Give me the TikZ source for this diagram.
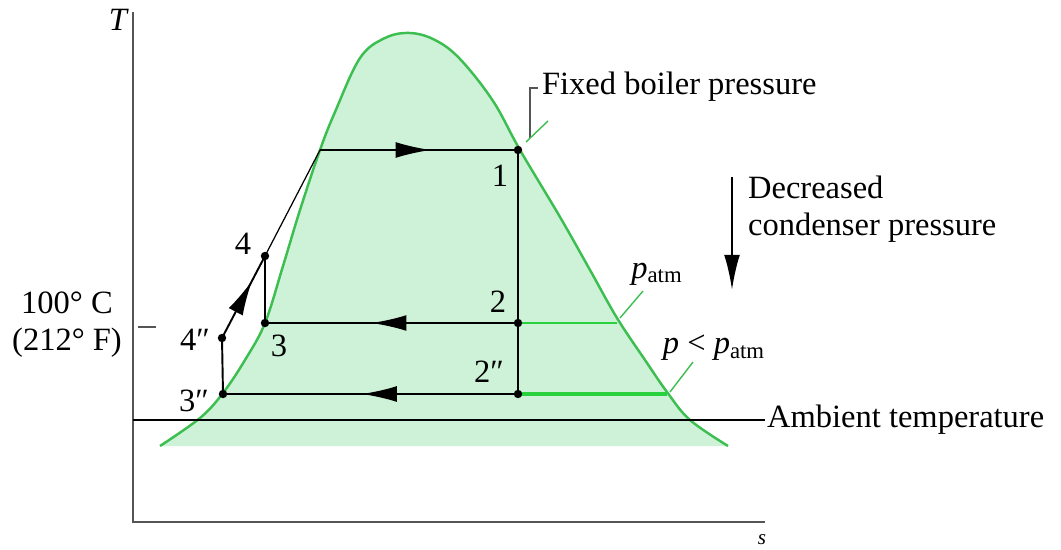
\documentclass[tikz,border=0pt]{standalone}
\usepackage{fontspec}
\setmainfont{Liberation Serif}
\usetikzlibrary{arrows.meta,decorations.markings}
\definecolor{domeline}{RGB}{60,190,80}
\definecolor{domefill}{RGB}{205,242,215}
\definecolor{lowline}{RGB}{40,210,60}
\definecolor{axisgray}{RGB}{85,85,85}

\tikzset{
  cycleline/.style={line width=1.1pt},
  midarrow/.style={postaction={decorate},
    decoration={markings,mark=at position #1 with {\arrow{Latex[length=20pt,width=9pt]}}}},
  lbl/.style={font=\fontsize{18.5}{21}\selectfont, inner sep=1pt},
  leader/.style={domeline, line width=0.8pt},
}

\begin{document}
\begin{tikzpicture}[x=0.02cm,y=-0.02cm]
\useasboundingbox (0,0) rectangle (1061,550);
% Saturation dome
\draw[domeline, line width=1.4pt, fill=domefill] plot[smooth, tension=0.6] coordinates {
  (160,446) (200,418) (223,393) (245,360) (265,323) (283,266) (300,210)
  (320,150) (335,112) (360,58) (385,38) (410,33) (435,40) (460,59)
  (493,101) (520,150) (560,217) (590,270) (617,318) (645,360) (667,392)
  (690,420) (728,446)};
% Axes
\coordinate (Ttop) at (133,12);
\coordinate (origin) at (133,522);
\coordinate (send) at (765,522);
\draw[axisgray, line width=1pt] (Ttop) -- (origin) -- (send);
\node[lbl, font=\fontsize{18.5}{21}\selectfont\itshape] (Tlabel) at (118,20) {T};
\node[lbl, font=\fontsize{12}{14}\selectfont\itshape] (slabel) at (762,540) {s};
% State points
\coordinate (p1) at (518,150);
\coordinate (p2) at (518,323);
\coordinate (p3) at (265,323);
\coordinate (p4) at (265,256);
\coordinate (sat) at (320,150);
\coordinate (p2pp) at (518,394);
\coordinate (p3pp) at (223,394);
\coordinate (p4pp) at (222,338);
% Constant pressure lines past the cycle
\coordinate (patmx) at (617,323);
\coordinate (lowx) at (667,394);
\draw[lowline, line width=1.4pt] (p2) -- (patmx);
\draw[lowline, line width=1.8pt] (p2pp) -- (lowx);
% Ambient temperature
\coordinate (ambL) at (133,420);
\coordinate (ambR) at (765,420);
\draw[line width=0.9pt] (ambL) -- (ambR);
\node[lbl, anchor=west] (amb) at (ambR) {Ambient temperature};
% Cycles
\draw[cycleline, midarrow=0.56] (sat) -- (p1);
\draw[cycleline] (p1) -- (p2pp);
\draw[cycleline, midarrow=0.58] (p2) -- (p3);
\draw[cycleline] (p3) -- (p4);
\draw[line width=0.7pt] (p4) -- (sat);
\draw[cycleline, midarrow=0.53] (p2pp) -- (p3pp);
\draw[cycleline] (p3pp) -- (p4pp);
\draw[cycleline, midarrow=0.7] (p4pp) -- (p4);
\foreach \p in {p1,p2,p3,p4,p2pp,p3pp,p4pp}
  \fill (\p) circle (2.4pt);
% Point labels
\node[lbl] (l1) at (500,176) {1};
\node[lbl] (l2) at (498,302) {2};
\node[lbl] (l2pp) at (489,372) {2″};
\node[lbl] (l3) at (279,346) {3};
\node[lbl] (l4) at (243,244) {4};
\node[lbl] (l4pp) at (195,340) {4″};
\node[lbl] (l3pp) at (194,401) {3″};
% 100 C tick
\coordinate (tickL) at (138,327);
\coordinate (tickR) at (156,327);
\draw[axisgray, line width=0.9pt] (tickL) -- (tickR);
\node[lbl, align=center] (tlabel) at (67,325) {100° C\\(212° F)};
% Boiler pressure callout
\coordinate (brk) at (530,138);
\coordinate (brktop) at (530,88);
\coordinate (brkend) at (538,88);
\draw[axisgray, line width=0.9pt] (brk) -- (brktop) -- (brkend);
\coordinate (bl1) at (526,142);
\coordinate (bl2) at (548,121);
\draw[leader] (bl1) -- (bl2);
\node[lbl, anchor=west] (boiler) at (540,87) {Fixed boiler pressure};
% Condenser pressure labels
\coordinate (pa1) at (620,318);
\coordinate (pa2) at (643,291);
\draw[leader] (pa1) -- (pa2);
\node[lbl] (patm) at (657,274) {\textit{p}\textsubscript{atm}};
\coordinate (pl1) at (670,392);
\coordinate (pl2) at (693,362);
\draw[leader] (pl1) -- (pl2);
\node[lbl] (plow) at (714,348) {\textit{p} < \textit{p}\textsubscript{atm}};
% Decreasing condenser pressure
\coordinate (arrtop) at (732,177);
\coordinate (arrbot) at (732,290);
\draw[line width=1.3pt, -{Latex[length=20pt,width=9pt]}] (arrtop) -- (arrbot);
\node[lbl, anchor=north west, align=left] (decr) at (746,174) {Decreased\\condenser pressure};
\end{tikzpicture}
\end{document}
